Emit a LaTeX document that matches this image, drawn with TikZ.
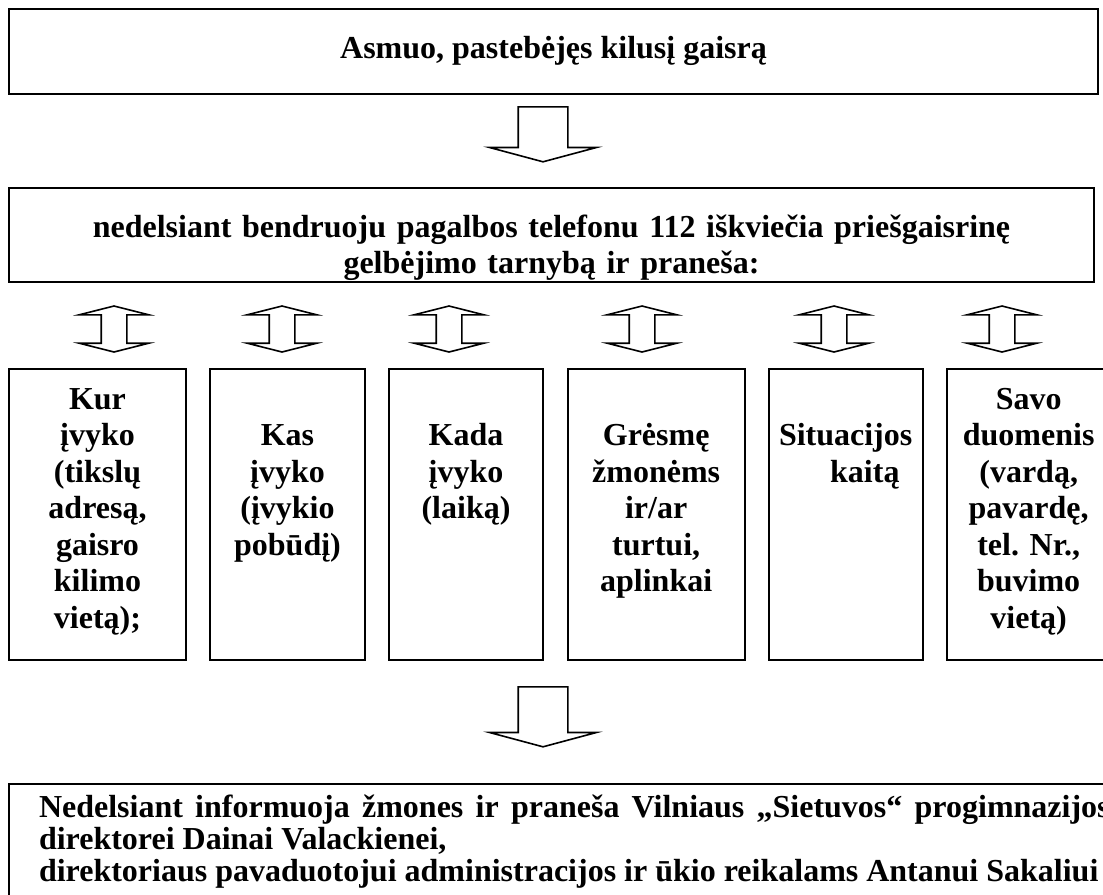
\documentclass[tikz,border=0pt]{standalone}
\usepackage{fontspec}
\setmainfont{Liberation Serif}
\usepackage{tikz}
\usetikzlibrary{shapes.arrows,positioning}

\begin{document}
\begin{tikzpicture}[
  x=0.75pt,
  y=-0.75pt,
  line width=1.5pt,
  font=\fontsize{24}{27.4}\selectfont\bfseries,
  mybox/.style={
    draw,
    anchor=north west,
    inner sep=0pt
    },
  mycol/.style={
    mybox,
    text width=112pt,
    align=center,
    text height=30pt,
    text depth=188.25pt,
    minimum width=#1
    },
  mydown/.style={
    draw,
    line width=1.2pt,
    single arrow,
    rotate=-90,
    anchor=tail,
    inner xsep=0pt,
    inner ysep=18pt,
    single arrow head extend=21.5pt,
    single arrow tip angle=150
    },
  myboth/.style={
    draw,
    line width=1.2pt,
    double arrow,
    rotate=90,
    inner xsep=0pt,
    inner ysep=9pt,
    double arrow head extend=16.5pt,
    double arrow tip angle=151.6,
    minimum height=34.5pt
    }
]
\useasboundingbox (0,0) rectangle (1103,894);

\node [mybox, minimum width=816.75pt, text height=36.75pt, text depth=27pt]
  (asmuo) at (8,8) {Asmuo, pastebėjęs kilusį gaisrą};

\node [mydown, minimum height=41.25pt] (a1) at (543,106) {};

\node [mybox, text width=800pt, align=center, minimum width=813.75pt,
  text height=36.75pt, text depth=33.75pt]
  (telefonu) at (8,187)
  {nedelsiant bendruoju pagalbos telefonu 112 iškviečia priešgaisrinę\\
   gelbėjimo tarnybą ir praneša:};

\node [myboth] (d1) at (114,329) {};
\node [myboth] (d2) at (282,329) {};
\node [myboth] (d3) at (449,329) {};
\node [myboth] (d4) at (642,329) {};
\node [myboth] (d5) at (834,329) {};
\node [myboth] (d6) at (1002,329) {};

\node [mycol=132.75pt] (kur) at (8,368)
  {Kur\\įvyko\\(tikslų\\adresą,\\gaisro\\kilimo\\vietą);};
\node [mycol=116.25pt, right=16.5pt of kur] (kas)
  {\mbox{}\\Kas\\įvyko\\(įvykio\\pobūdį)};
\node [mycol=115.5pt, right=16.5pt of kas] (kada)
  {\mbox{}\\Kada\\įvyko\\(laiką)};
\node [mycol=132.75pt, right=17pt of kada] (gresme)
  {\mbox{}\\Grėsmę\\žmonėms\\ir/ar\\turtui,\\aplinkai};
\node [mycol=115.5pt, right=16.5pt of gresme] (situacija)
  {\mbox{}\\Situacijos\\\hspace*{1.2em}kaitą};
\node [mycol=123pt, right=16.5pt of situacija] (savo)
  {Savo\\duomenis\\(vardą,\\pavardę,\\tel.\ Nr.,\\buvimo\\vietą)};

\node [mydown, minimum height=45pt] (a2) at (543,686) {};

\node [mybox, inner xsep=22.5pt, text width=803pt, align=justify,
  font=\fontsize{24}{24}\selectfont\bfseries,
  text height=24.75pt, text depth=80pt]
  (informuoja) at (8,783)
  {Nedelsiant informuoja žmones ir praneša Vilniaus „Sietuvos“ progimnazijos\linebreak
   direktorei Dainai Valackienei,\newline
   direktoriaus pavaduotojui administracijos ir ūkio reikalams Antanui Sakaliui\par};

\end{tikzpicture}
\end{document}
